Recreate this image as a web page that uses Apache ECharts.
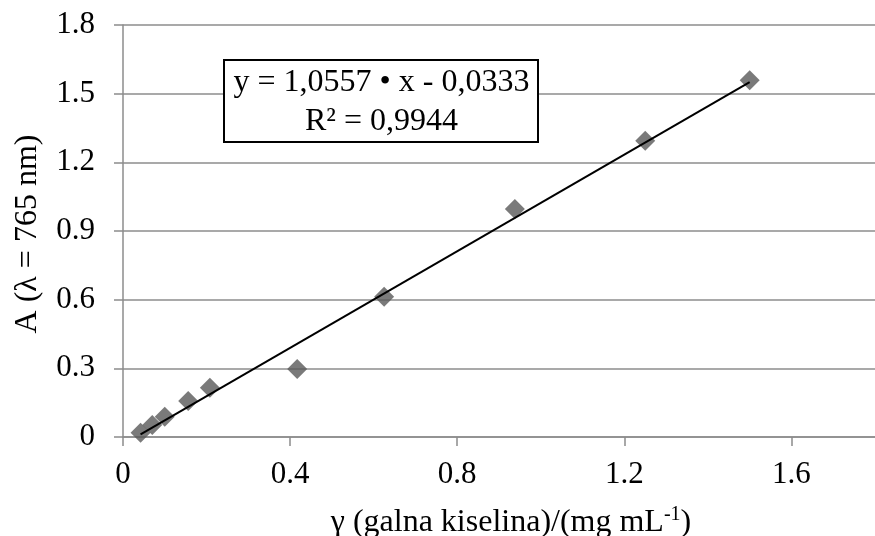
<!DOCTYPE html>
<html>
<head>
<meta charset="utf-8">
<script src="https://cdn.jsdelivr.net/npm/echarts@6/dist/echarts.min.js"></script>
<style>
html,body{margin:0;padding:0;background:#fff;}
#chart{width:875px;height:536px;}
</style>
</head>
<body>
<div id="chart"></div>
<script>
var xValues = [0.042, 0.07, 0.1, 0.156, 0.208, 0.417, 0.625, 0.938, 1.25, 1.5];
var yValues = [0.019, 0.052, 0.089, 0.157, 0.215, 0.297, 0.613, 0.996, 1.294, 1.559];
var slope = 1.0557;
var intercept = -0.0333;
var equationText = 'y = 1,0557 • x - 0,0333';
var r2Text = 'R² = 0,9944';
var xTitle = 'γ (galna kiselina)/(mg mL';
var xTitleSup = '-1';
var yTitle = 'A (λ = 765 nm)';

var points = xValues.map(function (x, i) { return [x, yValues[i]]; });
var xMin = Math.min.apply(null, xValues), xMax = Math.max.apply(null, xValues);
var trend = [[xMin, slope * xMin + intercept], [xMax, slope * xMax + intercept]];

var FONT = '"Liberation Serif", "Times New Roman", serif';
var chart = echarts.init(document.getElementById('chart'));
chart.setOption({
  animation: false,
  backgroundColor: '#fff',
  grid: { left: 123, top: 25, bottom: 99, right: -13, containLabel: false },
  xAxis: {
    type: 'value', min: 0, max: 1.8, interval: 0.4,
    axisLine: { show: true, lineStyle: { color: '#8c8c8c', width: 1.5 } },
    axisTick: { show: true, inside: false, length: 9, lineStyle: { color: '#8c8c8c', width: 1.5 } },
    splitLine: { show: false },
    axisLabel: { showMaxLabel: false, color: '#000', fontFamily: FONT, fontSize: 31, margin: 22 }
  },
  yAxis: {
    type: 'value', min: 0, max: 1.8, interval: 0.3,
    axisLine: { show: true, lineStyle: { color: '#8c8c8c', width: 1.5 } },
    axisTick: { show: true, inside: false, length: 9, lineStyle: { color: '#8c8c8c', width: 1.5 } },
    splitLine: { show: true, lineStyle: { color: '#8c8c8c', width: 1.5 } },
    axisLabel: { color: '#000', fontFamily: FONT, fontSize: 31, margin: 28 }
  },
  series: [
    {
      type: 'line', data: trend, showSymbol: false, symbol: 'none',
      lineStyle: { color: '#000', width: 2 }, z: 3, silent: true
    },
    {
      type: 'scatter', data: points, symbol: 'diamond', symbolSize: 20,
      itemStyle: { color: '#595959' }, z: 2
    }
  ],
  graphic: [
    {
      type: 'rect', shape: { x: 224, y: 60, width: 314, height: 82 },
      style: { fill: '#fff', stroke: '#000', lineWidth: 2 }, z: 10
    },
    {
      type: 'text', x: 381.5, y: 83, z: 11,
      style: { text: equationText, fill: '#000', font: '32px ' + FONT, textAlign: 'center', textVerticalAlign: 'middle' }
    },
    {
      type: 'text', x: 381.5, y: 122, z: 11,
      style: { text: r2Text, fill: '#000', font: '32px ' + FONT, textAlign: 'center', textVerticalAlign: 'middle' }
    },
    {
      type: 'text', x: 511, y: 522, z: 11,
      style: {
        text: '{n|' + xTitle + '}{s|' + xTitleSup + '}{n|)}',
        textAlign: 'center', textVerticalAlign: 'middle',
        rich: {
          n: { fontFamily: FONT, fontSize: 32, color: '#000', lineHeight: 34, verticalAlign: 'bottom' },
          s: { fontFamily: FONT, fontSize: 20, color: '#000', lineHeight: 34, verticalAlign: 'top' }
        }
      }
    },
    {
      type: 'text', x: 28, y: 234, rotation: Math.PI / 2, z: 11,
      style: { text: yTitle, fill: '#000', font: '32px ' + FONT, textAlign: 'center', textVerticalAlign: 'middle' }
    }
  ]
});
</script>
</body>
</html>
